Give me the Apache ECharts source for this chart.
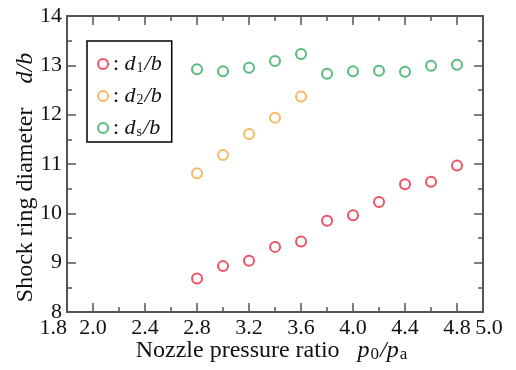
<!DOCTYPE html>
<html>
<head>
<meta charset="utf-8">
<script src="https://cdn.jsdelivr.net/npm/echarts@6/dist/echarts.min.js"></script>
<style>
  html, body { margin: 0; padding: 0; background: #fff; }
  #chart { width: 516px; height: 370px; }
</style>
</head>
<body>
<div id="chart"></div>
<script>
// nozzle pressure ratio p0/pa
const pressureRatio = [2.8, 3.0, 3.2, 3.4, 3.6, 3.8, 4.0, 4.2, 4.4, 4.6, 4.8];
const d1 = [8.68, 8.93, 9.04, 9.32, 9.43, 9.85, 9.96, 10.23, 10.59, 10.64, 10.97];
const d2 = [10.81, 11.18, 11.61, 11.94, 12.37];
const ds = [12.92, 12.88, 12.95, 13.09, 13.23, 12.83, 12.88, 12.89, 12.87, 12.99, 13.01];
const xTickLabels = [2.0, 2.4, 2.8, 3.2, 3.6, 4.0, 4.4, 4.8];
const xEndLabels = [1.8, 5.0];

const seriesNames = ['d1/b', 'd2/b', 'ds/b'];
const subscripts = ['1', '2', 's'];
const colors = ['#e8283c', '#f5a83a', '#2eaa5e'];

const FONT = '"Liberation Serif", "DejaVu Serif", serif';
const AXIS = '#555';
const FS = 22;
const NAME_FS = 24;

function pairs(ys) {
  return ys.map((y, i) => [pressureRatio[i], y]);
}

function rich(size, subSize) {
  return {
    n: { fontFamily: FONT, fontSize: size, color: '#111', lineHeight: size, verticalAlign: 'middle' },
    i: { fontFamily: FONT, fontSize: size, fontStyle: 'italic', color: '#111', lineHeight: size, verticalAlign: 'middle' },
    s: { fontFamily: FONT, fontSize: subSize, color: '#111', lineHeight: subSize - 2, padding: [size - 8, 1, 0, 1], verticalAlign: 'bottom' }
  };
}

const chart = echarts.init(document.getElementById('chart'));

function xAxisBase(position, major) {
  return {
    type: 'value',
    position: position,
    min: 1.8,
    max: 5.0,
    interval: 0.2,
    axisLine: { show: major, lineStyle: { color: AXIS, width: 2 } },
    axisTick: major
      ? { show: true, inside: true, length: 9, customValues: xTickLabels, lineStyle: { color: AXIS, width: 1.5 } }
      : { show: true, inside: true, length: 5, lineStyle: { color: AXIS, width: 1.5 } },
    axisLabel: { show: false },
    splitLine: { show: false }
  };
}

const labelStyle = { fontFamily: FONT, fontSize: FS, color: '#111', margin: 5 };

const bottomMajor = xAxisBase('bottom', true);
bottomMajor.axisLabel = Object.assign({
  show: true,
  customValues: xTickLabels,
  hideOverlap: false,
  formatter: (v) => v.toFixed(1)
}, labelStyle);
bottomMajor.name = 'Nozzle pressure ratio   {i|p}{s|0}{i|/p}{s|a}';
bottomMajor.nameLocation = 'middle';
bottomMajor.nameGap = 27;
bottomMajor.nameMoveOverlap = false;
bottomMajor.nameTextStyle = { fontFamily: FONT, fontSize: NAME_FS, color: '#111', rich: rich(NAME_FS, 17), padding: [0, 6, 0, 0] };

const bottomMinor = xAxisBase('bottom', false);
bottomMinor.axisLabel = Object.assign({
  show: true,
  customValues: xEndLabels,
  hideOverlap: false,
  alignMinLabel: 'right',
  alignMaxLabel: 'center',
  padding: [0, 0, 0, 12],
  formatter: (v) => v.toFixed(1)
}, labelStyle);

function yAxisBase(position, labels) {
  return {
    type: 'value',
    position: position,
    min: 8,
    max: 14,
    interval: 1,
    axisLine: { show: true, lineStyle: { color: AXIS, width: 2 } },
    axisTick: { show: true, inside: true, length: 9, lineStyle: { color: AXIS, width: 1.5 } },
    minorTick: { show: true, splitNumber: 2, length: 5, lineStyle: { color: AXIS, width: 1.5 } },
    axisLabel: labels ? Object.assign({ show: true }, labelStyle) : { show: false },
    splitLine: { show: false }
  };
}

const leftY = yAxisBase('left', true);
leftY.name = 'Shock ring diameter    {i|d/b}';
leftY.nameLocation = 'middle';
leftY.nameGap = 29;
leftY.nameMoveOverlap = false;
leftY.nameTextStyle = { fontFamily: FONT, fontSize: NAME_FS, color: '#111', rich: rich(NAME_FS, 15), padding: [0, 27, 0, 0] };

const option = {
  animation: false,
  backgroundColor: '#fff',
  grid: { left: 67, right: 33, top: 16, bottom: 58, outerBoundsMode: 'none' },
  legend: {
    orient: 'vertical',
    left: 87,
    top: 41,
    padding: [6, 10, 3, 10],
    itemGap: 4,
    itemWidth: 10,
    itemHeight: 10,
    borderColor: '#000',
    borderWidth: 1.5,
    data: seriesNames,
    formatter: (name) => {
      const k = seriesNames.indexOf(name);
      return '{n|: }{i|d}{s|' + subscripts[k] + '}{i|/b}';
    },
    textStyle: { rich: rich(FS, 14) }
  },
  xAxis: [
    bottomMajor,
    bottomMinor,
    xAxisBase('top', true),
    xAxisBase('top', false)
  ],
  yAxis: [leftY, yAxisBase('right', false)],
  series: [d1, d2, ds].map((vals, k) => ({
    name: seriesNames[k],
    type: 'scatter',
    xAxisIndex: 0,
    yAxisIndex: 0,
    symbol: 'emptyCircle',
    symbolSize: 10,
    itemStyle: { color: colors[k], borderColor: colors[k], borderWidth: 1.5 },
    data: pairs(vals)
  }))
};

chart.setOption(option);
</script>
</body>
</html>
